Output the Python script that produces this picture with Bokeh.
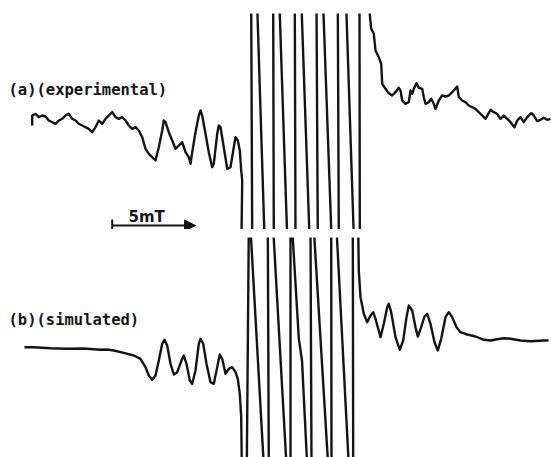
from bokeh.plotting import figure
from bokeh.layouts import column
from bokeh.models import Range1d, Arrow, NormalHead
from bokeh.core.properties import value
from bokeh.embed import file_html
from bokeh.resources import INLINE

# ---------------- data (field / signal, arbitrary units) ----------
# (a) experimental spectrum: noisy low-field wing, clipped central lines, high-field wing
field_a = [31.7, 31.7, 35, 38.3, 41.7, 45, 48.3, 51.7, 55, 58.3, 61.7, 65, 68.3, 71.7, 75,
           78.3, 81.7, 85, 88.3, 91.7, 95, 98.3, 101.7, 105, 108.3, 111.7, 115, 118.3, 121.7,
           125, 128.3, 131.7, 135, 138.3, 141.7, 145, 148.3, 151.7, 155, 158.3, 161.7, 163.3,
           165, 168.3, 171.7, 175, 178.3, 181.7, 185, 188.3, 190, 191.7, 195, 198.3, 200,
           201.7, 205, 208.3, 211.7, 213.3, 216.7, 218.3, 220, 223.3, 226.7, 230, 233.3, 235,
           237.3, 239.3, 240.7, 241.7,
           241, 251.7, 250.7, 256.7, 264, 273.3, 272.7, 279, 286.7, 295, 294.3, 301, 309,
           317.3, 316, 322.7, 331, 338.3, 337.3, 345.7, 353.3, 359.3, 359, 369,
           369.3, 370.7, 373.3, 375, 378.3, 380.7, 381.7, 385, 388.3, 391.7, 395, 398.3, 400,
           401.7, 405, 408.3, 410, 411.7, 413.3, 416, 418.3, 421.7, 423.3, 425, 428.3, 430.7,
           433.3, 435, 438.3, 441.7, 445, 448.3, 451.7, 456.7, 458.3, 461.7, 465, 468.3, 471.7,
           475, 478.3, 481.7, 485, 490, 493.3, 496.7, 500, 503.3, 506.7, 510, 514, 516.7, 520,
           523.3, 526.7, 530.7, 533.3, 536.7, 540, 543.3, 546.7, 550]
signal_a = [125, 115, 113.3, 116.7, 115, 116, 120, 121.7, 123.3, 120, 118.3, 115, 113.3, 118.3,
            120, 123.3, 125, 126.7, 128.3, 131.7, 126.7, 120, 123.3, 118.3, 115, 111.7, 116.7,
            118.3, 116.7, 120, 125, 128.3, 126.7, 130, 136.7, 148.3, 153.3, 156.7, 160, 146.7,
            130, 120, 121.7, 131.7, 140, 148.3, 145, 141.7, 151.7, 156.7, 163.3, 151.7, 131.7,
            115, 110, 115, 133.3, 151.7, 166.7, 163.3, 133.3, 125, 126.7, 146.7, 168.3, 166.7,
            146.7, 136.7, 140, 150, 170, 180,
            236, 236, 5, 5, 236, 236, 5, 5, 236, 236, 5, 5, 236,
            236, 5, 5, 236, 236, 5, 5, 236, 236, 5, 5,
            14, 28.3, 33.3, 50, 56.7, 63.3, 83.3, 88.3, 92.7, 95, 91.7, 87.3, 90,
            100, 103.3, 101.7, 90, 93.3, 88.3, 82.7, 87.3, 88.3, 96.7, 103.3, 101.7, 98.3,
            103.3, 108.3, 100, 95, 96, 95, 91.7, 86, 96.7, 100, 101.7, 105, 106.7,
            108.3, 111.7, 115, 118.3, 109.3, 111.7, 113.3, 118.3, 115, 118.3, 121.7, 126.7, 120,
            116.7, 121.7, 116.7, 112.7, 115, 120.7, 119.3, 117.3, 119.3, 118.3]

# (b) simulated spectrum
field_b = [24, 33.3, 50, 66.7, 83.3, 100, 106.7, 113.3, 123.3, 133.3, 140, 145, 148.3, 151.7,
           155, 158.3, 161.7, 164, 166.7, 170, 173.3, 176.7, 181, 183.3, 186, 189.3, 191.7,
           195, 198.3, 200, 202.7, 206, 210, 213.3, 216.7, 219.3, 221.7, 225, 228.3, 231.7,
           235, 237.3, 239.3, 240.7, 241.3,
           246.3, 248.3, 250, 263.3, 268.3, 267.3, 272.7, 286, 290, 290, 291.7, 298.3, 301.5,
           306.7, 311, 310, 313.3, 327.7, 331, 330.7, 336, 348.3, 352.7, 352.3, 357.7,
           358.3, 360, 363.3, 366.7, 370, 372.7, 375, 380, 383.3, 386.7, 388.3, 390.7, 395,
           399.3, 402.7, 406, 408.3, 411.7, 415, 417.3, 420.7, 424, 426.7, 430, 434, 437.3,
           440.7, 445, 448.3, 451.7, 456, 460, 466.7, 475, 483.3, 490, 496.7, 503.3, 510, 520,
           530, 543.3, 548]
signal_b = [346.7, 346.7, 347.7, 348.3, 348, 349.3, 349, 350, 352.3, 355, 358.3, 366.7, 375,
            379.3, 375, 360, 343.3, 339.3, 345, 363.3, 374, 371.7, 360, 355, 363.3, 380, 383.3,
            370, 343.3, 338.3, 343.3, 363.3, 381.7, 383.3, 366.7, 354, 358.3, 373.3, 368.3,
            366.7, 371.7, 378.3, 393.3, 416.7, 465,
            465, 228, 228, 465, 465, 228, 228, 465, 465, 228, 228, 338, 360,
            465, 465, 228, 228, 465, 465, 228, 228, 465, 465, 228, 228,
            270, 296.7, 313.3, 321.7, 315, 311.7, 318.3, 336.7, 323.3, 306.7, 303.3, 311.7, 336.7,
            349.3, 340, 316.7, 305, 310, 326.7, 336, 326.7, 316, 313.3, 323.3, 341.7, 350,
            338.3, 316.7, 311.7, 316.7, 326.7, 331.7, 334, 336, 339.3, 340, 338.7, 337.7, 338.3,
            340, 340.7, 340, 340]

label_a = "(a)(experimental)"
label_b = "(b)(simulated)"
scale_label = "5mT"
scale_start = 111.7   # field value at the start of the 5 mT bar
scale_end = 195.0     # field value at the end of the 5 mT bar

INK = "#141414"


def make_fig(height, top_border, y_bottom, y_top):
    p = figure(width=551, height=height,
               x_range=Range1d(0, 551), y_range=Range1d(y_bottom, y_top),
               output_backend="svg", toolbar_location=None,
               x_axis_location=None, y_axis_location=None,
               min_border=0, min_border_top=top_border,
               min_border_left=0, min_border_right=0, min_border_bottom=0)
    p.grid.visible = False
    p.outline_line_color = None
    p.background_fill_color = "white"
    p.border_fill_color = "white"
    return p


pa = make_fig(229, 13, 229, 13)
pa.line(field_a, signal_a, line_color=INK, line_width=2.4, line_join="round")
pa.text(x=[8], y=[89], text=[label_a], text_font=value("DejaVu Sans Mono"),
        text_font_size="15.5px", text_font_style="bold", text_color=INK,
        text_align="left", text_baseline="alphabetic")
pa.text(x=[128], y=[216], text=[scale_label], text_font=value("DejaVu Sans"),
        text_font_size="15px", text_font_style="bold", text_color=INK,
        text_align="left", text_baseline="alphabetic")
pa.add_layout(Arrow(end=NormalHead(size=11, fill_color=INK, line_color=INK, line_width=1),
                    x_start=scale_start, y_start=225, x_end=scale_end, y_end=225,
                    line_color=INK, line_width=2))
pa.segment(x0=[scale_start], y0=[219], x1=[scale_start], y1=[231], line_color=INK, line_width=2)

pb = make_fig(228, 8, 457, 237)
pb.line(field_b, signal_b, line_color=INK, line_width=2.4, line_join="round")
pb.text(x=[8], y=[319], text=[label_b], text_font=value("DejaVu Sans Mono"),
        text_font_size="15.5px", text_font_style="bold", text_color=INK,
        text_align="left", text_baseline="alphabetic")

layout = column(pa, pb, spacing=0)
open("out.html", "w").write(file_html(layout, INLINE))
